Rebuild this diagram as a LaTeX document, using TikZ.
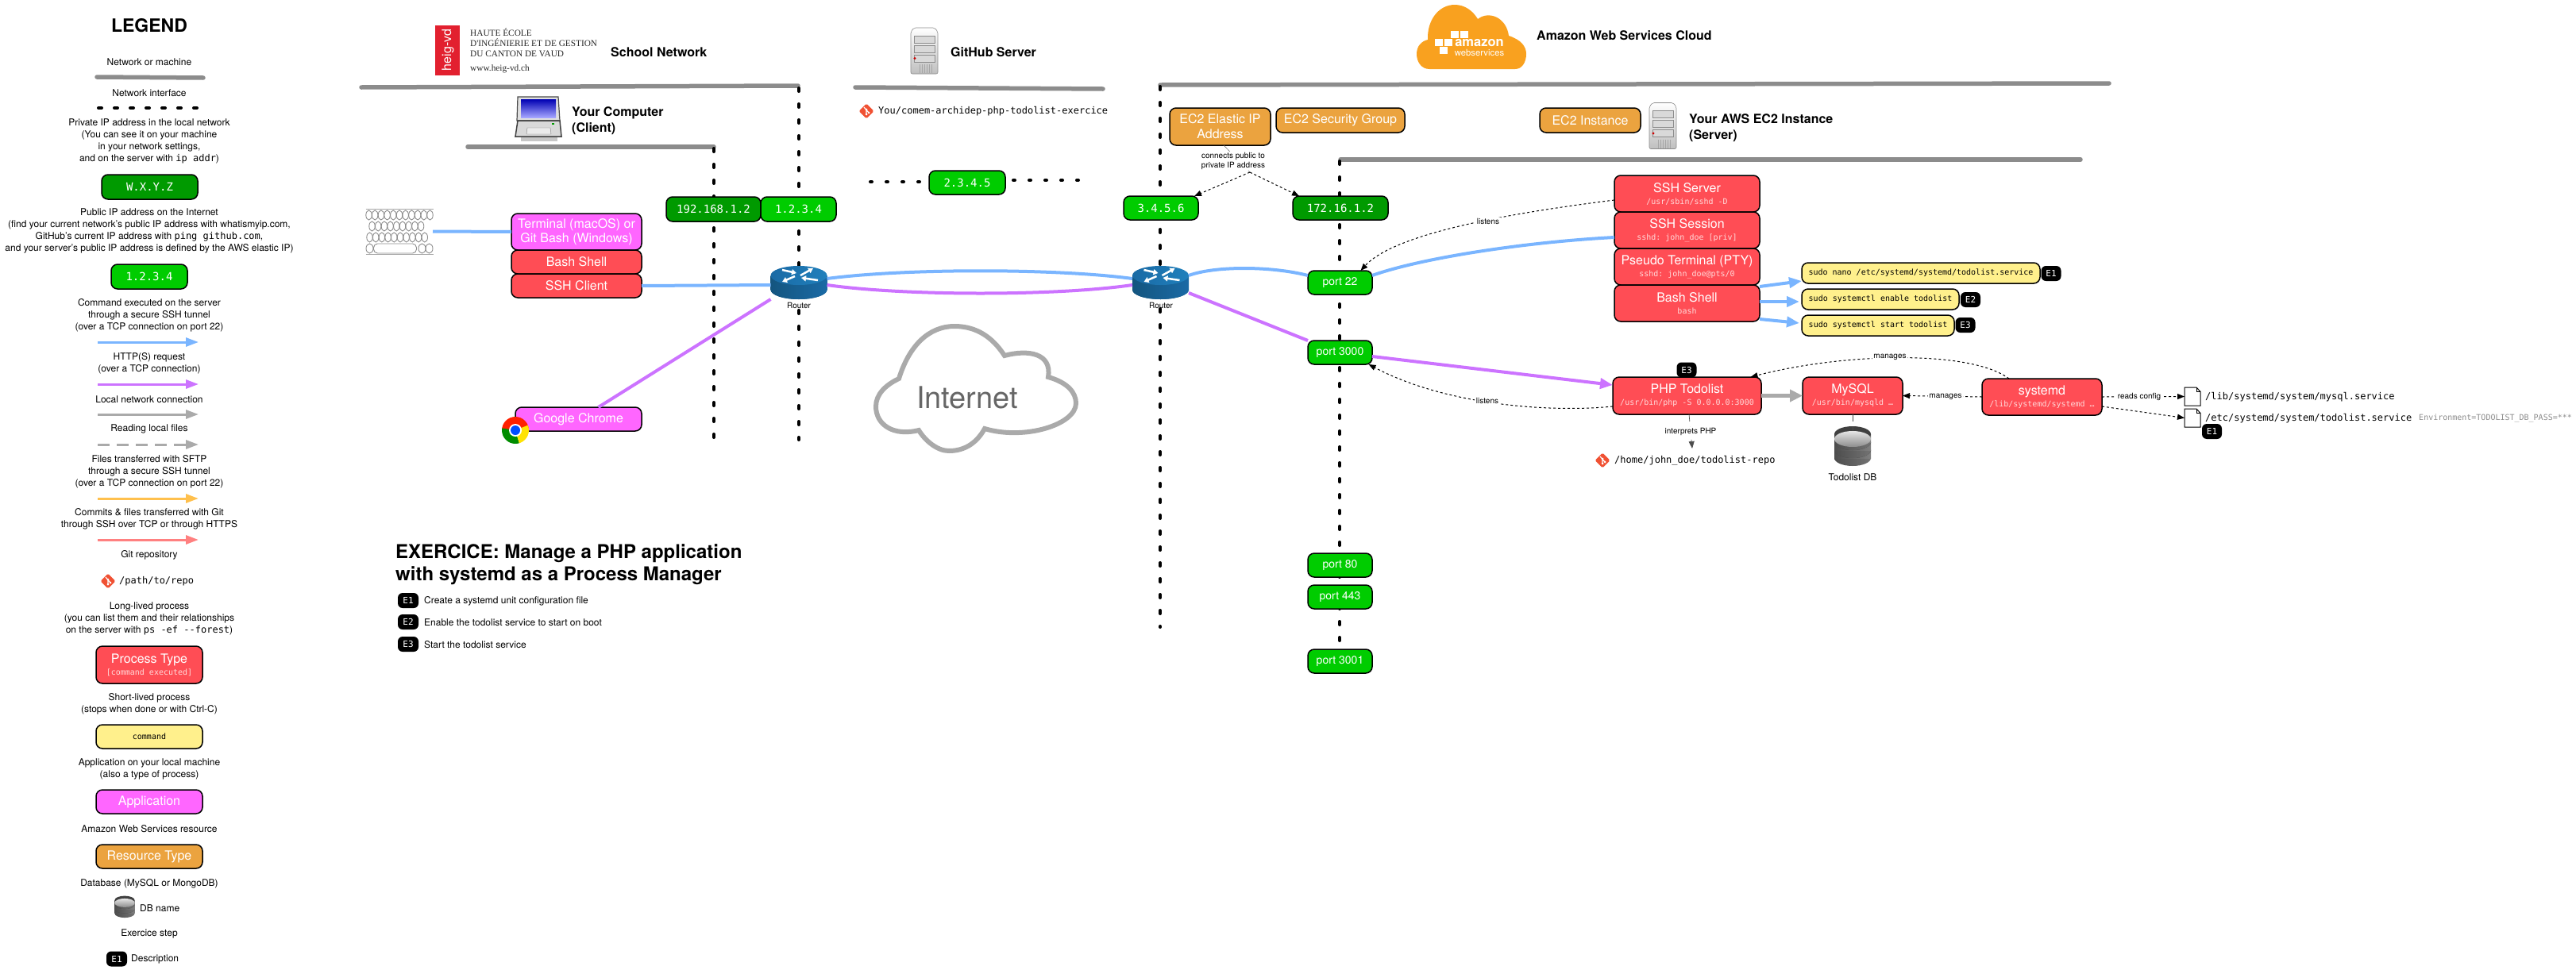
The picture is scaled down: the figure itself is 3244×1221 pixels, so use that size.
\documentclass[tikz,border=0pt]{standalone}
\usepackage{fontspec}
\setmainfont{TeX Gyre Heros}
\setmonofont{DejaVu Sans Mono}
\newfontfamily\heigfont{Liberation Serif}
\usetikzlibrary{arrows.meta, calc}

\definecolor{netGray}{HTML}{8C8C8C}
\definecolor{ipDark}{HTML}{009A00}
\definecolor{ipLight}{HTML}{00CC00}
\definecolor{procRed}{HTML}{FF4D55}
\definecolor{shortYellow}{HTML}{FFF08C}
\definecolor{appPink}{HTML}{FF66FF}
\definecolor{awsOrange}{HTML}{EBA33F}
\definecolor{cloudOrange}{HTML}{F9A11F}
\definecolor{sshBlue}{HTML}{7AB5FF}
\definecolor{httpPurple}{HTML}{CC73FF}
\definecolor{localGray}{HTML}{AAAAAA}
\definecolor{commitAmber}{HTML}{FFC04D}
\definecolor{gitSalmon}{HTML}{FF8080}
\definecolor{gitOrange}{HTML}{F05133}
\definecolor{subPink}{HTML}{FFDADA}
\definecolor{heigRed}{HTML}{E2202F}
\definecolor{routerSide}{HTML}{1A6AA5}
\definecolor{routerEdge}{HTML}{14557F}
\definecolor{routerTop}{HTML}{2080BC}

\newcommand{\fsz}[1]{\fontsize{#1}{#1}\selectfont}
\newcommand{\proctext}[2]{{\fsz{16}#1}\\{\ttfamily\fsz{10}\color{subPink}#2}}

\tikzset{
    netline/.style={line width=5.5pt, netGray, line cap=round},
    ifaceline/.style={line width=4pt, black, dash pattern=on 4pt off 16pt, line cap=round},
    ifacedots/.style={line width=4pt, black, dash pattern=on 2pt off 18pt, line cap=round},
    legendtxt/.style={align=center, inner sep=0pt, font=\fontsize{12}{15}\selectfont},
    boldtxt/.style={align=left, anchor=west, inner sep=0pt, font=\bfseries\fontsize{16}{20}\selectfont},
    smalltxt/.style={align=center, inner sep=1.5pt, fill=white, font=\fontsize{10}{12}\selectfont},
    monotxt/.style={anchor=west, inner sep=0pt, font=\ttfamily\fontsize{12}{12}\selectfont},
    boxbase/.style={rectangle, rounded corners=8pt, draw=black, line width=1.5pt, inner sep=0pt, outer sep=0pt, align=center},
    ipdark/.style={boxbase, fill=ipDark, text=white, font=\ttfamily\fontsize{14}{14}\selectfont},
    iplight/.style={boxbase, fill=ipLight, text=white, font=\ttfamily\fontsize{14}{14}\selectfont},
    portbox/.style={boxbase, fill=ipLight, text=white, minimum width=81pt, minimum height=30pt, font=\fontsize{14}{14}\selectfont},
    procbox/.style={boxbase, fill=procRed, text=white, font=\fontsize{16}{15}\selectfont},
    shortbox/.style={boxbase, fill=shortYellow, text=black, minimum height=26pt, font=\ttfamily\fontsize{10}{10}\selectfont},
    appbox/.style={boxbase, fill=appPink, text=white, font=\fontsize{16}{18}\selectfont},
    resbox/.style={boxbase, fill=awsOrange, text=white, font=\fontsize{16}{19}\selectfont},
    stepbadge/.style={rectangle, rounded corners=6pt, fill=black, text=white, minimum width=25pt, minimum height=19pt, inner sep=0pt, font=\ttfamily\fontsize{11}{11}\selectfont},
    iconspot/.style={inner sep=0pt, outer sep=0pt},
    bluelink/.style={line width=4pt, sshBlue},
    purplelink/.style={line width=4pt, httpPurple},
    bluearrow/.style={line width=4pt, sshBlue, -{Triangle[length=16pt, width=13pt]}},
    purplearrow/.style={line width=4pt, httpPurple, -{Triangle[length=16pt, width=13pt]}},
    grayarrow/.style={line width=5pt, localGray, -{Triangle[length=16pt, width=15pt]}},
    legendarrow/.style={line width=3pt, -{Triangle[length=16pt, width=11pt]}},
    dashedlink/.style={line width=1pt, black, dash pattern=on 3pt off 3pt, -{Triangle[length=9pt, width=7pt]}},
    thinlink/.style={line width=0.7pt, black!70, dash pattern=on 9pt off 7pt},
    gitlogo/.pic={
        \fill[gitOrange, rounded corners=1.5pt] (0,-9.5) -- (9.5,0) -- (0,9.5) -- (-9.5,0) -- cycle;
        \draw[white, line width=1.2pt] (-3,-5) -- (3,2) (0,-2) -- (0,4);
        \fill[white] (3,2) circle (1.5) (0,4) circle (1.5) (0,-2) circle (1.5);
    },
    serverlogo/.pic={
        \shade[top color=white, bottom color=black!25, draw=black!45, line width=0.6pt, rounded corners=2pt]
            (-17,-24) -- (-13,-29) -- (13,-29) -- (17,-24) -- (17,29) -- (-17,29) -- cycle;
        \foreach \yy in {-19,-7,5} {
            \draw[black!45, fill=black!15, line width=0.6pt] (-13,\yy) rectangle (13,\yy+9);
        }
        \fill[red!80!black] (-12,9.5) circle (1.6);
        \foreach \xx in {-6,-3,...,9} {
            \draw[black!35, line width=0.7pt] (\xx,17) -- (\xx,28);
        }
    },
    laptoplogo/.pic={
        \fill[black!22] (-22,22) rectangle (24,28);
        \draw[black!70, fill=black!12, line width=1.2pt] (-26,-28) -- (25,-28) -- (27,2) -- (-27,2) -- cycle;
        \shade[top color=blue!70!black, bottom color=blue!35!white] (-22,-25) rectangle (22,-2);
        \draw[black!75, fill=black!15, line width=1.5pt] (-26,2) -- (27,2) -- (29,22) -- (-29,22) -- cycle;
        \draw[black!50, fill=black!8] (-14,11) -- (15,11) -- (16,19) -- (-15,19) -- cycle;
        \fill[green!60!black] (17,5) rectangle (20,6.5);
    },
    keyslogo/.pic={
        \draw[black!35, line width=1pt] (-42,-28) -- (43,-28) (-42,29) -- (43,29);
        \foreach \xx in {-38,-30.3,...,39} {
            \draw[black!45, line width=0.9pt] (\xx,-20.5) ellipse (3.7 and 6);
        }
        \foreach \xx in {-34,-26.3,...,33} {
            \draw[black!45, line width=0.9pt] (\xx,-6.5) ellipse (3.7 and 6);
        }
        \foreach \xx in {-37,-29.3,...,39} {
            \draw[black!45, line width=0.9pt] (\xx,7.5) ellipse (3.7 and 6);
        }
        \foreach \xx in {-37,29,38} {
            \draw[black!45, line width=0.9pt] (\xx,21.5) ellipse (4.5 and 6);
        }
        \draw[black!45, line width=0.9pt, rounded corners=5pt] (-32,15.5) rectangle (22,27.5);
    },
    routerlogo/.pic={
        \fill[routerEdge] (0,9) ellipse (35.5 and 12);
        \shade[left color=routerEdge, right color=routerSide] (-35.5,-9) rectangle (35.5,9);
        \shade[left color=routerEdge, right color=routerSide] (0,9) ellipse (35.5 and 12);
        \shade[left color=routerSide, right color=routerTop] (0,-9) ellipse (35.5 and 12);
        \draw[white, line width=2.5pt, -{Triangle[length=6pt, width=7pt]}] (-21,-16) -- (-3,-12);
        \draw[white, line width=2.5pt, -{Triangle[length=6pt, width=7pt]}] (24,-3) -- (3,-6);
        \draw[white, line width=2.5pt, -{Triangle[length=6pt, width=7pt]}] (2,-9) -- (18,-18);
        \draw[white, line width=2.5pt, -{Triangle[length=6pt, width=7pt]}] (-5,-8) -- (-21,-1);
    },
    dblogo/.pic={
        \foreach \yy in {12,2,-8} {
            \shade[left color=black!70, right color=black!55] (0,\yy) ellipse (23 and 10);
            \shade[left color=black!70, right color=black!50] (-23,\yy-10) rectangle (23,\yy);
            \fill[black!75] (0,\yy-10) ellipse (23 and 10);
        }
        \shade[top color=black!10, bottom color=black!45] (0,-12) ellipse (23 and 10);
    },
    chromelogo/.pic={
        \begin{scope}
            \clip (0,0) circle (17);
            \fill[red!75!orange] (-20,-20) rectangle (20,0);
            \fill[green!55!black] (-20,-3) -- (0,0) -- (6,20) -- (-20,20) -- cycle;
            \fill[yellow!85!orange] (0,0) -- (20,-8) -- (20,20) -- (6,20) -- cycle;
        \end{scope}
        \fill[white] (0,0) circle (8);
        \fill[blue!70!cyan] (0,0) circle (6);
    },
    docpage/.pic={
        \draw[black, fill=white, line width=1pt] (-10,-11.5) -- (5,-11.5) -- (10,-6) -- (10,11.5) -- (-10,11.5) -- cycle;
        \draw[black, line width=0.7pt] (5,-11.5) -- (5,-6) -- (10,-6);
    },
}

\begin{document}
\begin{tikzpicture}[x=1pt, y=-1pt]

    \useasboundingbox (0,0) rectangle (3244,1221);

    % --- Legend ---
    \node[inner sep=0pt, font=\bfseries\fsz{23}] (lgTitle) at (188,32) {LEGEND};

    \node[legendtxt] (lgNet) at (188,78) {Network or machine};
    \draw[netline] (122,97) -- (256,98);
    \node[legendtxt] (lgIface) at (188,117) {Network interface};
    \draw[ifaceline] (124,136) -- (250,136);

    \node[legendtxt] (lgPrivate) at (188,177.5) {Private IP address in the local network\\(You can see it on your machine\\in your network settings,\\and on the server with \texttt{ip addr})};
    \node[ipdark, minimum width=121pt, minimum height=31pt] (lgPrivateIp) at (188.5,235.5) {W.X.Y.Z};

    \node[legendtxt] (lgPublic) at (188,291) {Public IP address on the Internet\\(find your current network's public IP address with whatismyip.com,\\GitHub's current IP address with \texttt{ping github.com},\\and your server's public IP address is defined by the AWS elastic IP)};
    \node[iplight, minimum width=96pt, minimum height=31pt] (lgPublicIp) at (188,348.5) {1.2.3.4};

    \node[legendtxt] (lgCommand) at (188,397) {Command executed on the server\\through a secure SSH tunnel\\(over a TCP connection on port 22)};
    \node[legendtxt] (lgHttp) at (188,457.5) {HTTP(S) request\\(over a TCP connection)};
    \node[legendtxt] (lgLocal) at (188,503) {Local network connection};
    \node[legendtxt] (lgRead) at (188,540.5) {Reading local files};
    \node[legendtxt] (lgSftp) at (188,594) {Files transferred with SFTP\\through a secure SSH tunnel\\(over a TCP connection on port 22)};
    \node[legendtxt] (lgCommits) at (188,654) {Commits \& files transferred with Git\\through SSH over TCP or through HTTPS};
    \node[legendtxt] (lgGit) at (188,699) {Git repository};

    \foreach \nm/\yy/\cc in {Blue/431/sshBlue, Purple/484/httpPurple, Gray/522/localGray, Amber/628/commitAmber, Salmon/680/gitSalmon} {
        \coordinate (lg\nm A) at (123,\yy);
        \coordinate (lg\nm B) at (250,\yy);
        \draw[legendarrow, \cc] (lg\nm A) -- (lg\nm B);
    }
    \coordinate (lgDashA) at (123,560);
    \coordinate (lgDashB) at (250,560);
    \draw[legendarrow, localGray, dash pattern=on 15pt off 9pt] (lgDashA) -- (lgDashB);

    \pic at (136,732) {gitlogo};
    \node[monotxt] (lgRepo) at (150,732) {/path/to/repo};

    \node[legendtxt] (lgLong) at (188,779.5) {Long-lived process\\(you can list them and their relationships\\on the server with \texttt{ps -ef --forest})};
    \node[procbox, minimum width=134pt, minimum height=47pt] (lgProc) at (188,837.5) {\proctext{Process Type}{[command executed]}};

    \node[legendtxt] (lgShort) at (188,886.5) {Short-lived process\\(stops when done or with Ctrl-C)};
    \node[shortbox, minimum width=134pt, minimum height=30pt] (lgCmd) at (188,928) {command};

    \node[legendtxt] (lgApp) at (188,969) {Application on your local machine\\(also a type of process)};
    \node[appbox, minimum width=134pt, minimum height=30pt] (lgAppBox) at (188,1010) {Application};

    \node[legendtxt] (lgAws) at (188,1044) {Amazon Web Services resource};
    \node[resbox, minimum width=134pt, minimum height=30pt] (lgRes) at (188,1079) {Resource Type};

    \node[legendtxt] (lgDb) at (188,1113) {Database (MySQL or MongoDB)};
    \pic[scale=0.55] at (157,1144) {dblogo};
    \node[legendtxt, anchor=west] (lgDbName) at (176,1144) {DB name};

    \node[legendtxt] (lgStep) at (188,1176.5) {Exercice step};
    \node[stepbadge, minimum width=26pt] (lgBadge) at (147,1208) {E1};
    \node[legendtxt, anchor=west] (lgDesc) at (165,1208) {Description};

    % --- School network header ---
    \fill[heigRed] (548,32) rectangle (579,95);
    \node[rotate=90, inner sep=0pt, text=white, font=\fsz{16}] (heigMark) at (564,63) {heig-vd};
    \node[anchor=west, align=left, inner sep=0pt, text=black!85, font=\heigfont\fontsize{11.3}{13}\selectfont] (heigName) at (592,54) {HAUTE ÉCOLE\\D'INGÉNIERIE ET DE GESTION\\DU CANTON DE VAUD};
    \node[anchor=west, inner sep=0pt, text=black!85, font=\heigfont\fsz{11.3}] (heigUrl) at (592,87) {www.heig-vd.ch};
    \node[boldtxt] (schoolTxt) at (769,66) {School Network};
    \node[boldtxt] (githubTxt) at (1197,66) {GitHub Server};
    \node[boldtxt] (clientTxt) at (720,152) {Your Computer\\(Client)};
    \node[boldtxt] (awsTxt) at (1935,45) {Amazon Web Services Cloud};
    \node[boldtxt] (serverTxt) at (2127,161) {Your AWS EC2 Instance\\(Server)};

    \pic at (1164,64) {serverlogo};
    \pic at (678,150) {laptoplogo};
    \pic at (2094,158.5) {serverlogo};

    \pic at (1091,140) {gitlogo};
    \node[monotxt] (githubRepo) at (1106,140) {You/comem-archidep-php-todolist-exercice};

    % --- AWS cloud logo ---
    \fill[cloudOrange] (1800,87) .. controls (1790,87) and (1784,78) .. (1784,68)
        .. controls (1784,58) and (1790,52) .. (1798,50)
        .. controls (1797,25) and (1812,6) .. (1832,6)
        .. controls (1845,6) and (1855,14) .. (1861,24)
        .. controls (1875,13) and (1897,22) .. (1900,45)
        .. controls (1915,50) and (1922,58) .. (1922,68)
        .. controls (1922,78) and (1917,87) .. (1908,87) -- cycle;
    \foreach \xx/\yy in {1827/39, 1839/39, 1807/49, 1819/49, 1813/59} {
        \fill[white] (\xx,\yy) rectangle ++(10,9);
    }
    \node[inner sep=0pt, text=white, font=\bfseries\fsz{16.5}] (awsWord) at (1863,54) {amazon};
    \node[inner sep=0pt, text=white, font=\fsz{11.3}] (awsServices) at (1863,66) {webservices};

    % --- Internet cloud ---
    \draw[localGray, line width=6pt] (1132,477) .. controls (1145,435) and (1170,411) .. (1202,411)
        .. controls (1230,411) and (1250,425) .. (1265,448)
        .. controls (1295,440) and (1325,445) .. (1320,475)
        .. controls (1345,482) and (1355,495) .. (1355,508)
        .. controls (1355,535) and (1290,555) .. (1240,540)
        .. controls (1230,558) and (1215,568) .. (1195,568)
        .. controls (1180,568) and (1165,555) .. (1157,542)
        .. controls (1125,550) and (1103,535) .. (1103,512)
        .. controls (1103,497) and (1115,485) .. (1132,477) -- cycle;
    \node[inner sep=0pt, text=black!60, font=\fsz{38}] (internetTxt) at (1218,501) {Internet};

    % --- Networks and machines ---
    \draw[netline] (455,110) -- (1005,108);
    \draw[netline] (1077,110) -- (1389,112);
    \draw[netline] (589,185) -- (899,185);
    \draw[netline] (1461,107) -- (2656,105);
    \draw[netline] (1688,201) -- (2620,201);

    % --- Network interfaces ---
    \draw[ifaceline] (899,187) -- (899,554);
    \draw[ifaceline] (1006,111) -- (1006,554);
    \draw[ifaceline] (1461,109) -- (1461,790);
    \draw[ifaceline] (1687,203) -- (1687,812);
    \draw[ifacedots] (1096,229) -- (1165,229);
    \draw[ifacedots] (1276,227) -- (1358,227);

    % --- IP addresses ---
    \node[ipdark, minimum width=119pt, minimum height=31pt] (ipLocal) at (898.5,263.5) {192.168.1.2};
    \node[iplight, minimum width=95pt, minimum height=31pt] (ipSchool) at (1005.5,263.5) {1.2.3.4};
    \node[iplight, minimum width=96pt, minimum height=30pt] (ipGithub) at (1218,230) {2.3.4.5};
    \node[iplight, minimum width=94pt, minimum height=30pt] (ipElastic) at (1462,262) {3.4.5.6};
    \node[ipdark, minimum width=120pt, minimum height=30pt] (ipPrivate) at (1688,262) {172.16.1.2};

    % --- Client applications ---
    \node[iconspot, minimum width=85pt, minimum height=57pt] (keyboard) at (502.5,291.5) {};
    \pic at (keyboard) {keyslogo};
    \node[appbox, minimum width=164pt, minimum height=46pt] (terminal) at (726,292) {Terminal (macOS) or\\Git Bash (Windows)};
    \node[procbox, minimum width=164pt, minimum height=30pt] (bashClient) at (726,330) {Bash Shell};
    \node[procbox, minimum width=164pt, minimum height=30pt] (sshClient) at (726,360) {SSH Client};
    \node[appbox, minimum width=159pt, minimum height=30pt] (chrome) at (728.5,528) {Google Chrome};
    \pic at (649,542) {chromelogo};

    % --- Routers ---
    \node[iconspot, minimum width=71pt, minimum height=42pt] (routerA) at (1006,356) {};
    \pic at (routerA) {routerlogo};
    \node[inner sep=0pt, font=\fsz{10}] (routerAtxt) at (1006,384.5) {Router};
    \node[iconspot, minimum width=71pt, minimum height=42pt] (routerB) at (1461.5,356) {};
    \pic at (routerB) {routerlogo};
    \node[inner sep=0pt, font=\fsz{10}] (routerBtxt) at (1462,384.5) {Router};

    % --- AWS resources ---
    \node[resbox, minimum width=127pt, minimum height=47pt] (elasticIp) at (1536.5,159.5) {EC2 Elastic IP\\Address};
    \node[resbox, minimum width=162pt, minimum height=31pt] (secGroup) at (1688,151.5) {EC2 Security Group};
    \node[resbox, minimum width=127pt, minimum height=31pt] (ec2Inst) at (2002.5,151.5) {EC2 Instance};

    % --- Ports ---
    \node[portbox] (port22) at (1687.5,356) {port 22};
    \node[portbox] (port3000) at (1687.5,444) {port 3000};
    \node[portbox] (port80) at (1687.5,712) {port 80};
    \node[portbox] (port443) at (1687.5,752) {port 443};
    \node[portbox] (port3001) at (1687.5,833) {port 3001};

    % --- Server processes ---
    \node[procbox, minimum width=183pt, minimum height=46pt] (sshServer) at (2124.5,244) {\proctext{SSH Server}{/usr/sbin/sshd -D}};
    \node[procbox, minimum width=183pt, minimum height=46pt] (sshSession) at (2124.5,290) {\proctext{SSH Session}{sshd: john\_doe [priv]}};
    \node[procbox, minimum width=183pt, minimum height=46pt] (pty) at (2124.5,336) {\proctext{Pseudo Terminal (PTY)}{sshd: john\_doe@pts/0}};
    \node[procbox, minimum width=183pt, minimum height=46pt] (bashServer) at (2124.5,382) {\proctext{Bash Shell}{bash}};

    \node[shortbox, minimum width=300pt] (cmdNano) at (2419,344) {sudo nano /etc/systemd/systemd/todolist.service};
    \node[shortbox, minimum width=198pt] (cmdEnable) at (2368,377) {sudo systemctl enable todolist};
    \node[shortbox, minimum width=192pt] (cmdStart) at (2365,410) {sudo systemctl start todolist};
    \node[stepbadge] (badgeNano) at (2583,344.5) {E1};
    \node[stepbadge] (badgeEnable) at (2481.5,377.5) {E2};
    \node[stepbadge] (badgeStart) at (2475,409.5) {E3};

    \node[stepbadge] (badgePhp) at (2124,466) {E3};
    \node[procbox, minimum width=187pt, minimum height=47pt] (phpApp) at (2124.5,498.5) {\proctext{PHP Todolist}{/usr/bin/php -S 0.0.0.0:3000}};
    \node[procbox, minimum width=126pt, minimum height=47pt] (mysqlApp) at (2333,498.5) {\proctext{MySQL}{/usr/bin/mysqld …}};
    \node[procbox, minimum width=151pt, minimum height=46pt] (systemdApp) at (2571.5,500) {\proctext{systemd}{/lib/systemd/systemd …}};

    % --- Files and database ---
    \node[iconspot, minimum width=46pt, minimum height=44pt] (dbIcon) at (2333,565) {};
    \pic at (dbIcon) {dblogo};
    \node[inner sep=0pt, font=\fsz{12}] (dbTxt) at (2333,601) {Todolist DB};

    \pic at (2018,580) {gitlogo};
    \node[monotxt] (repoTxt) at (2033,580) {/home/john\_doe/todolist-repo};
    \coordinate (repoTip) at (2131,565);

    \node[iconspot, minimum width=20pt, minimum height=23pt] (docMysql) at (2761,499.5) {};
    \pic at (docMysql) {docpage};
    \node[iconspot, minimum width=20pt, minimum height=23pt] (docTodo) at (2761,526.5) {};
    \pic at (docTodo) {docpage};
    \node[monotxt] (docMysqlTxt) at (2777,500) {/lib/systemd/system/mysql.service};
    \node[monotxt] (docTodoTxt) at (2777,527) {/etc/systemd/system/todolist.service};
    \node[monotxt, text=black!45, font=\ttfamily\fsz{10}] (envTxt) at (3046,527) {Environment=TODOLIST\_DB\_PASS=***};
    \node[stepbadge] (badgeDoc) at (2785.5,543.5) {E1};

    % --- Network links ---
    \draw[bluelink] (keyboard.east) -- (terminal.west);
    \draw[bluelink] (sshClient.east) -- ([yshift=-3pt]routerA.west);
    \draw[purplelink] ([xshift=25pt]chrome.north) -- (routerA.south west);
    \draw[bluelink] ([yshift=5pt]routerA.east) .. controls (1140,338) and (1330,338) .. ([yshift=5pt]routerB.west);
    \draw[purplelink] ([yshift=-3pt]routerA.east) .. controls (1140,373) and (1330,373) .. ([yshift=-3pt]routerB.west);
    \draw[bluelink] ([yshift=9pt]routerB.east) .. controls (1530,335) and (1600,335) .. ([yshift=9pt]port22.west);
    \draw[purplelink] ([yshift=8pt]routerB.south east) -- (port3000.north west);
    \draw[bluelink] ([yshift=9pt]port22.east) .. controls (1790,325) and (1920,305) .. ([yshift=-9pt]sshSession.west);
    \draw[purplearrow] ([yshift=-5pt]port3000.east) -- ([yshift=13.5pt]phpApp.west);

    \draw[bluearrow] ([yshift=21pt]bashServer.east) -- ([yshift=-10pt]cmdNano.west);
    \draw[bluearrow] ([yshift=2pt]bashServer.east) -- ([xshift=-3pt, yshift=-3pt]cmdEnable.west);
    \draw[bluearrow] ([yshift=-20pt]bashServer.east) -- ([xshift=-3pt, yshift=3pt]cmdStart.west);
    \draw[grayarrow] (phpApp.east) -- (mysqlApp.west);

    % --- Annotations (dashed) ---
    \coordinate (elasticSplit) at (1574,217);
    \draw[line width=0.5pt, black!60] ([xshift=4.5pt]elasticIp.south) -- (elasticSplit);
    \draw[dashedlink] (elasticSplit) -- ([xshift=42pt]ipElastic.north);
    \draw[dashedlink] (elasticSplit) -- ([xshift=-52pt]ipPrivate.north);
    \node[smalltxt] (connectsTxt) at (1553,203) {connects public to\\private IP address};

    \draw[dashedlink] ([yshift=-8pt]sshServer.west) .. controls (1930,265) and (1760,290) .. ([xshift=26pt]port22.north);
    \node[smalltxt] (listensSsh) at (1874,279) {listens};

    \draw[dashedlink] ([yshift=-13.5pt]phpApp.west) .. controls (1950,520) and (1820,510) .. ([xshift=36pt]port3000.south);
    \node[smalltxt] (listensPhp) at (1873,505) {listens};

    \draw[dashedlink] ([xshift=-41.5pt]systemdApp.north) .. controls (2480,440) and (2320,445) .. ([xshift=80pt]phpApp.north);
    \node[smalltxt] (managesPhp) at (2380,450) {manages};

    \draw[dashedlink] (systemdApp.west) -- (mysqlApp.east);
    \node[smalltxt] (managesDb) at (2450,500) {manages};

    \draw[dashedlink] (systemdApp.east) -- (docMysql.west);
    \node[smalltxt] (readsTxt) at (2694,500) {reads config};
    \draw[dashedlink] ([yshift=-12pt]systemdApp.east) -- (docTodo.west);

    \draw[thinlink, -{Triangle[length=9pt, width=7pt]}] ([xshift=2.5pt]phpApp.south) -- (repoTip);
    \node[smalltxt] (interpretsTxt) at (2129,544) {interprets PHP};
    \draw[thinlink] (mysqlApp.south) -- (dbIcon.north);

    % --- Exercice ---
    \node[anchor=west, align=left, inner sep=0pt, font=\bfseries\fontsize{24}{28}\selectfont] (exTitle) at (498,711) {EXERCICE: Manage a PHP application\\with systemd as a Process Manager};
    \node[stepbadge, minimum width=26pt] (exBadgeA) at (514,756.5) {E1};
    \node[legendtxt, anchor=west] (exTxtA) at (534,757) {Create a systemd unit configuration file};
    \node[stepbadge, minimum width=26pt] (exBadgeB) at (514,783.5) {E2};
    \node[legendtxt, anchor=west] (exTxtB) at (534,784) {Enable the todolist service to start on boot};
    \node[stepbadge, minimum width=26pt] (exBadgeC) at (514,811.5) {E3};
    \node[legendtxt, anchor=west] (exTxtC) at (534,812) {Start the todolist service};

\end{tikzpicture}
\end{document}
